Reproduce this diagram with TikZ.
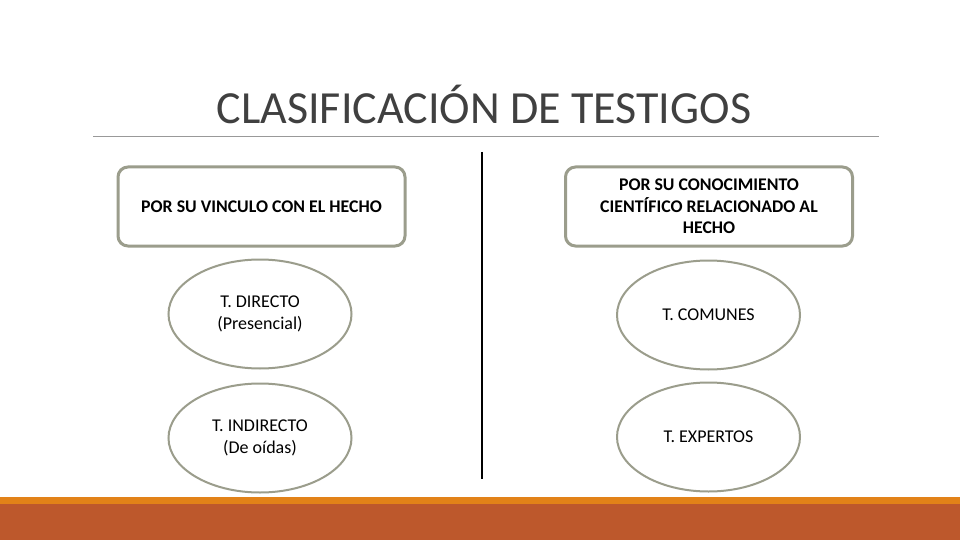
\documentclass[tikz,border=0pt]{standalone}
\usepackage{fontspec}
\setmainfont{Carlito}
\usetikzlibrary{shapes.geometric}
\definecolor{bordergray}{RGB}{155,157,140}
\definecolor{titlegray}{RGB}{64,64,64}
\definecolor{stripeorange}{RGB}{226,130,24}
\definecolor{bandbrown}{RGB}{189,88,44}
\tikzset{
  catbox/.style={draw=bordergray, line width=3pt, rounded corners=10pt, fill=white,
    minimum width=287pt, minimum height=79pt, inner sep=0pt, align=center,
    font=\fontsize{17.8}{21.5}\selectfont\bfseries},
  oval/.style={ellipse, draw=bordergray, line width=2pt, fill=white,
    minimum width=183pt, minimum height=109pt, inner sep=0pt, align=center,
    font=\fontsize{18}{21.5}\selectfont},
}
\begin{document}
\begin{tikzpicture}[x=1pt,y=-1pt]
\useasboundingbox (0,0) rectangle (960,540);
\fill[white] (0,0) rectangle (960,540);
% bottom band
\fill[stripeorange] (0,497) rectangle (960,504);
\fill[bandbrown] (0,504) rectangle (960,540);
% title
\node[text=titlegray, font=\fontsize{46}{50}\selectfont, anchor=base] (title) at (484,124) {CLASIFICACIÓN DE TESTIGOS};
\coordinate (ruleL) at (93,137);
\coordinate (ruleR) at (879,137);
\draw[gray!80, line width=1pt] (ruleL) -- (ruleR);
% divider
\coordinate (divT) at (482,152);
\coordinate (divB) at (482,479);
\draw[black, line width=2.2pt] (divT) -- (divB);
% boxes
\node[catbox] (left) at (261.5,206.5) {POR SU VINCULO CON EL HECHO};
\node[catbox] (right) at (709,206.5) {POR SU CONOCIMIENTO\\CIENTÍFICO RELACIONADO AL\\HECHO};
% ovals
\node[oval] (directo) at (260,314) {T. DIRECTO\\(Presencial)};
\node[oval] (indirecto) at (260,438) {T. INDIRECTO\\(De oídas)};
\node[oval] (comunes) at (708.5,315) {T. COMUNES};
\node[oval] (expertos) at (708.5,437) {T. EXPERTOS};
\end{tikzpicture}
\end{document}
